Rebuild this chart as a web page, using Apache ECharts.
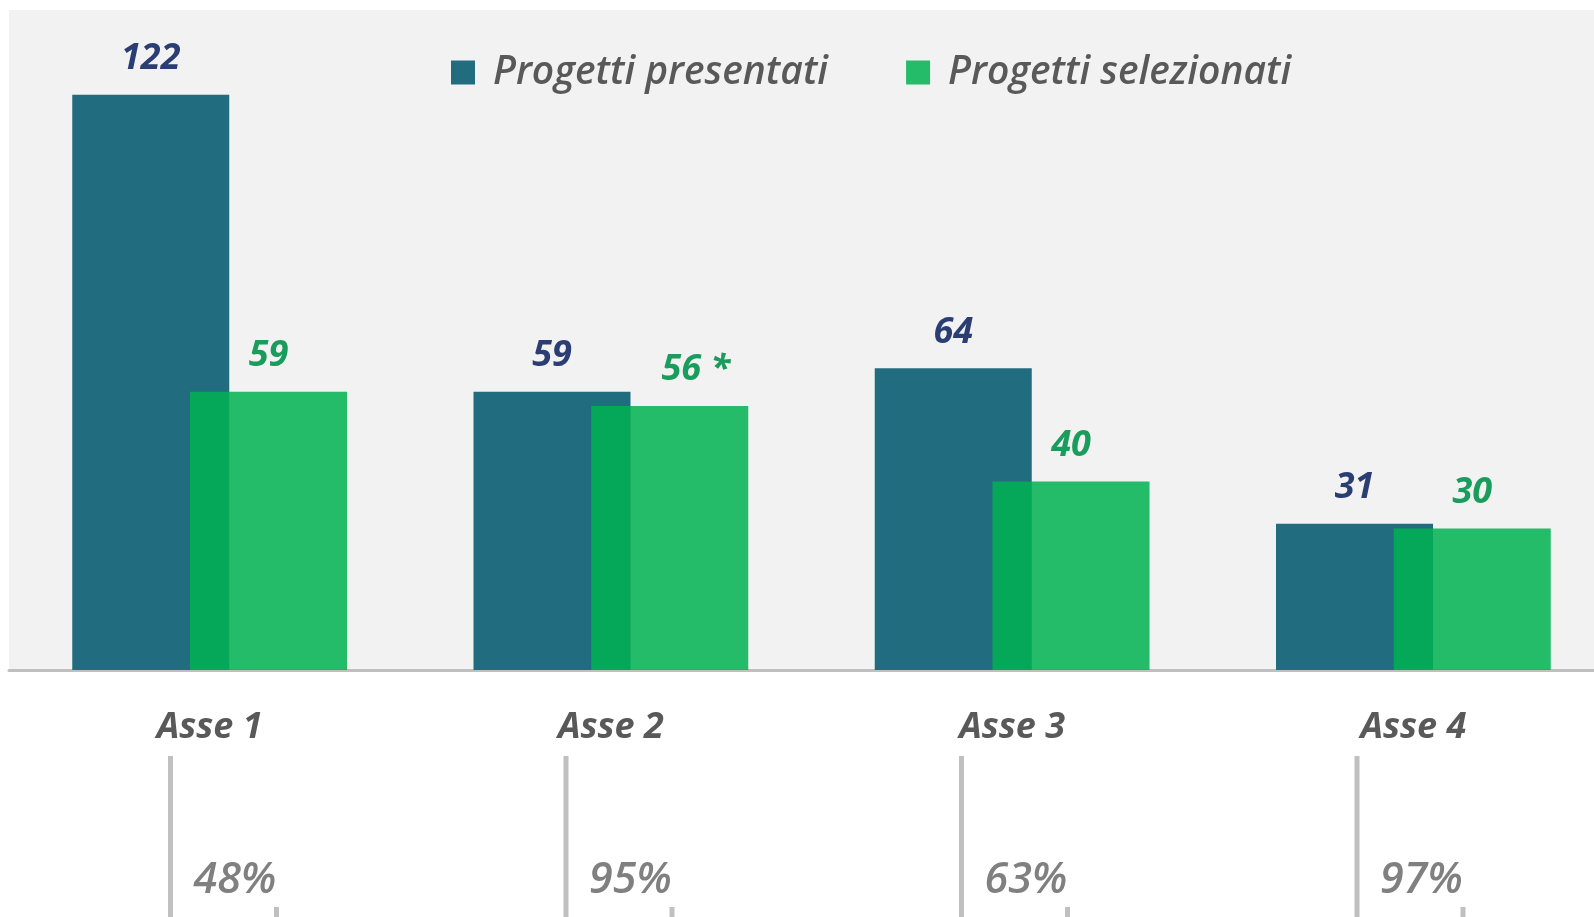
<!DOCTYPE html>
<html>
<head>
<meta charset="utf-8">
<script src="https://cdn.jsdelivr.net/npm/echarts@6/dist/echarts.min.js"></script>
<style>
  html, body { margin: 0; padding: 0; background: #fff; }
  #main { width: 1594px; height: 917px; }
</style>
</head>
<body>
<div id="main"></div>
<script>
  var categories = ['Asse 1', 'Asse 2', 'Asse 3', 'Asse 4'];
  var presentati = [122, 59, 64, 31];
  var selezionati = [59, 56, 40, 30];
  var selezionatiNote = ['', ' *', '', ''];
  var percentLabels = ['48%', '95%', '63%', '97%'];

  var FONT = '"Open Sans", "DejaVu Sans", sans-serif';
  var myChart = echarts.init(document.getElementById('main'));

  myChart.setOption({
    backgroundColor: '#ffffff',
    animation: false,
    legend: {
      left: 446,
      top: 48,
      itemWidth: 24,
      itemHeight: 24,
      itemGap: 78,
      icon: 'rect',
      textStyle: {
        fontFamily: FONT,
        fontStyle: 'italic',
        fontWeight: 600,
        fontSize: 39,
        color: '#595959',
        padding: [0, 0, 0, 13]
      },
      data: ['Progetti presentati', 'Progetti selezionati']
    },
    grid: [
      {
        show: true,
        backgroundColor: '#f2f2f2',
        borderWidth: 0,
        outerBoundsMode: 'none',
        left: 9,
        top: 10,
        width: 1605,
        height: 660
      },
      {
        outerBoundsMode: 'none',
        left: 25.75,
        top: 756,
        width: 1582,
        height: 161
      }
    ],
    xAxis: [
      {
        type: 'category',
        data: categories,
        axisTick: {show: false},
        axisLine: {
          lineStyle: {color: '#bfbfbf', width: 3}
        },
        axisLabel: {
          margin: 40,
          fontFamily: FONT,
          fontStyle: 'italic',
          fontWeight: 'bold',
          fontSize: 36,
          color: '#595959'
        }
      },
      {
        type: 'category',
        gridIndex: 1,
        data: categories,
        show: false
      }
    ],
    yAxis: [
      {type: 'value', min: 0, max: 140, show: false, splitLine: {show: false}},
      {type: 'value', gridIndex: 1, min: 0, max: 1, show: false, splitLine: {show: false}}
    ],
    series: [
      {
        name: 'Progetti presentati',
        type: 'bar',
        data: presentati,
        barWidth: 157,
        barGap: '-25%',
        itemStyle: {color: '#226c80'},
        label: {
          show: true,
          position: 'top',
          distance: 18,
          fontFamily: FONT,
          fontStyle: 'italic',
          fontWeight: 'bold',
          fontSize: 36,
          color: '#2b3e73'
        }
      },
      {
        name: 'Progetti selezionati',
        type: 'bar',
        barWidth: 157,
        data: selezionati.map(function (v, i) {
          var item = {value: v};
          if (selezionatiNote[i]) {
            item.label = {offset: [26, 0]};
          }
          return item;
        }),
        itemStyle: {color: 'rgba(0,177,81,0.85)'},
        label: {
          show: true,
          position: 'top',
          distance: 18,
          fontFamily: FONT,
          fontStyle: 'italic',
          fontWeight: 'bold',
          fontSize: 36,
          color: '#1a9c5c',
          formatter: function (p) {
            return p.value + selezionatiNote[p.dataIndex];
          }
        }
      },
      {
        name: 'percentuale',
        type: 'custom',
        xAxisIndex: 1,
        yAxisIndex: 1,
        silent: true,
        data: categories.map(function (c, i) { return [i, 0]; }),
        renderItem: function (params, api) {
          var cs = params.coordSys;
          var x = api.coord([api.value(0), 0])[0];
          var top = cs.y;
          var bottom = cs.y + cs.height;
          return {
            type: 'group',
            children: [
              {
                type: 'line',
                shape: {x1: x - 53, y1: top, x2: x - 53, y2: bottom},
                style: {stroke: '#c0c0c0', lineWidth: 5}
              },
              {
                type: 'line',
                shape: {x1: x + 53, y1: top + 151, x2: x + 53, y2: bottom},
                style: {stroke: '#c0c0c0', lineWidth: 5}
              },
              {
                type: 'text',
                style: {
                  text: percentLabels[params.dataIndex],
                  x: x - 30,
                  y: top + 146,
                  textAlign: 'left',
                  textVerticalAlign: 'bottom',
                  font: 'italic 600 43px ' + FONT,
                  fill: '#808080'
                }
              }
            ]
          };
        }
      }
    ]
  });
</script>
</body>
</html>
